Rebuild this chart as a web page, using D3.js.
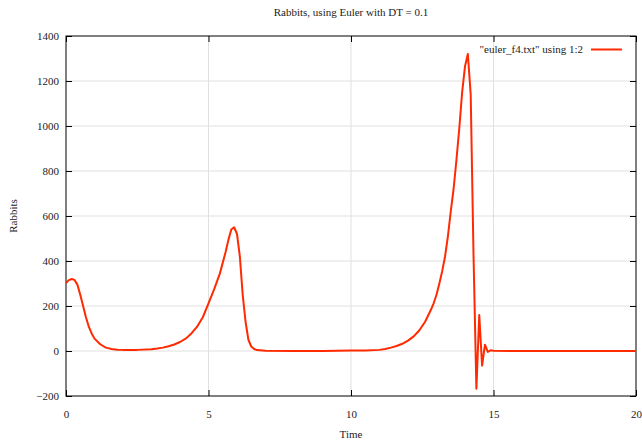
<!DOCTYPE html>
<html>
<head>
<meta charset="utf-8">
<script src="https://cdn.jsdelivr.net/npm/d3@7"></script>
<style>
  body { margin: 0; background: #fff; }
</style>
</head>
<body>
<div id="chart"></div>
<script>
// values (time, rabbits)
const times = [
	0, 0.1, 0.2, 0.3, 0.4, 0.5, 0.6, 0.7, 0.8, 0.9, 1.0, 1.2, 1.4, 1.6, 1.8, 2.0, 2.5, 3.0, 3.2, 3.4,
	3.6, 3.8, 4.0, 4.2, 4.4, 4.6, 4.8, 5.0, 5.2, 5.4, 5.6, 5.7, 5.8, 5.9, 6.0, 6.1, 6.2, 6.3, 6.4, 6.5,
	6.6, 6.7, 6.8, 7.0, 8.0, 9.0, 10.0, 10.5, 11.0, 11.2, 11.4, 11.6, 11.8, 12.0, 12.2, 12.4, 12.6, 12.8, 12.9, 13.0,
	13.1, 13.2, 13.3, 13.4, 13.5, 13.6, 13.7, 13.8, 13.9, 14.0, 14.1, 14.2, 14.3, 14.4, 14.5, 14.6, 14.7, 14.8, 14.9, 15.0,
	16.0, 18.0, 20.0
];
const rabbits = [
	302, 315, 320, 316, 295, 250, 200, 150, 108, 78, 55, 30, 15, 9, 6, 5, 5, 8, 11, 15,
	21, 29, 40, 55, 78, 108, 150, 212, 275, 345, 440, 495, 540, 550, 520, 420, 250, 130, 50, 20,
	9, 4, 3, 1, 0, 0, 2, 2, 5, 9, 15, 22, 32, 46, 65, 92, 130, 182, 212, 250,
	300, 355, 420, 510, 620, 720, 850, 990, 1150, 1265, 1320, 1140, 420, -168, 160, -65, 28, -4, 3, 1,
	0, 0, 0
];
const xTicks = [0, 5, 10, 15, 20];
const yTicks = [-200, 0, 200, 400, 600, 800, 1000, 1200, 1400];

const titleText = "Rabbits, using Euler with DT = 0.1";
const legendText = "\"euler_f4.txt\" using 1:2";

const width = 642, height = 441;
const margin = {top: 36, right: 6, bottom: 45, left: 66};
const lineColor = "#ff2a00";
const serif = "Liberation Serif, Times New Roman, DejaVu Serif, serif";

const svg = d3.select("#chart").append("svg")
	.attr("width", width)
	.attr("height", height)
	.attr("font-family", serif)
	.attr("font-size", 11);

const x = d3.scaleLinear().domain([0, 20]).range([margin.left, width - margin.right]);
const y = d3.scaleLinear().domain([-200, 1400]).range([height - margin.bottom, margin.top]);

// grid
svg.append("g")
	.selectAll("line")
	.data(xTicks.slice(1, -1))
	.join("line")
	.attr("x1", d => x(d)).attr("x2", d => x(d))
	.attr("y1", y(-200)).attr("y2", y(1400))
	.attr("stroke", "#e0e0e0");
svg.append("g")
	.selectAll("line")
	.data(yTicks.slice(1, -1))
	.join("line")
	.attr("x1", x(0)).attr("x2", x(20))
	.attr("y1", d => y(d)).attr("y2", d => y(d))
	.attr("stroke", "#e0e0e0");

// axes, ticks pointing inward, mirrored on top/right
const tickLen = 6;
const fmt = d3.format("d");
svg.append("g")
	.attr("transform", `translate(0,${y(-200)})`)
	.call(d3.axisBottom(x).tickValues(xTicks).tickFormat(fmt).tickSize(-tickLen).tickPadding(14))
	.call(g => g.select(".domain").remove());
svg.append("g")
	.attr("transform", `translate(0,${y(1400)})`)
	.call(d3.axisTop(x).tickValues(xTicks).tickSize(-tickLen).tickFormat(""))
	.call(g => g.select(".domain").remove());
svg.append("g")
	.attr("transform", `translate(${x(0)},0)`)
	.call(d3.axisLeft(y).tickValues(yTicks).tickFormat(fmt).tickSize(-tickLen).tickPadding(7))
	.call(g => g.select(".domain").remove());
svg.append("g")
	.attr("transform", `translate(${x(20)},0)`)
	.call(d3.axisRight(y).tickValues(yTicks).tickSize(-tickLen).tickFormat(""))
	.call(g => g.select(".domain").remove());

svg.selectAll(".tick text")
	.attr("font-family", serif)
	.attr("font-size", 11)
	.attr("fill", "#222");
svg.selectAll(".tick").attr("font-family", serif);
svg.selectAll("g").filter(function() { return this.hasAttribute("font-family"); })
	.attr("font-family", serif).attr("font-size", 11);
svg.selectAll(".tick line").attr("stroke", "#000");

// border
svg.append("rect")
	.attr("x", x(0)).attr("y", y(1400))
	.attr("width", x(20) - x(0)).attr("height", y(-200) - y(1400))
	.attr("fill", "none")
	.attr("stroke", "#000")
	.attr("stroke-width", 1);

// the curve
const line = d3.line()
	.x((d, i) => x(times[i]))
	.y(d => y(d));
svg.append("path")
	.datum(rabbits)
	.attr("fill", "none")
	.attr("stroke", lineColor)
	.attr("stroke-width", 2)
	.attr("stroke-linejoin", "round")
	.attr("d", line);

// legend
svg.append("text")
	.attr("x", 583).attr("y", 53)
	.attr("text-anchor", "end")
	.attr("fill", "#222")
	.text(legendText);
svg.append("line")
	.attr("x1", 591).attr("x2", 622)
	.attr("y1", 49.5).attr("y2", 49.5)
	.attr("stroke", lineColor)
	.attr("stroke-width", 2);

// titles
svg.append("text")
	.attr("x", 351).attr("y", 16)
	.attr("text-anchor", "middle")
	.attr("fill", "#222")
	.text(titleText);
svg.append("text")
	.attr("x", 351).attr("y", 438)
	.attr("text-anchor", "middle")
	.attr("fill", "#222")
	.text("Time");
svg.append("text")
	.attr("transform", `translate(17,216) rotate(-90)`)
	.attr("text-anchor", "middle")
	.attr("fill", "#222")
	.text("Rabbits");
</script>
</body>
</html>
